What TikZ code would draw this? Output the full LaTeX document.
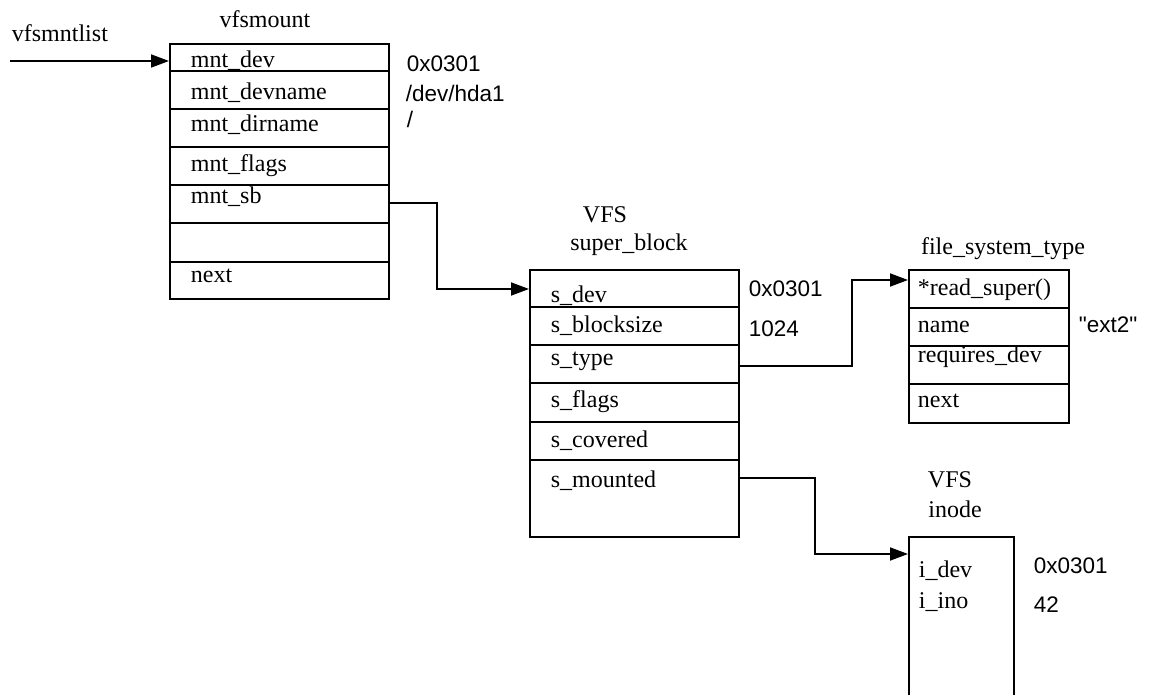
\documentclass[tikz,border=0pt]{standalone}
\usepackage{fontspec}
\setmainfont{Liberation Serif}
\newfontfamily\valfont{Liberation Sans}
\usetikzlibrary{arrows.meta, positioning}
\tikzset{
x=1pt, y=-1pt, % one unit is one pixel of the sketch, y runs downwards
>={Triangle[length=18pt, width=13pt]}, % filled arrow heads
every node/.style={font=\fontsize{24}{28}\selectfont, inner sep=0pt}, % serif labels
struct/.style={draw, rectangle, anchor=north west}, % the outline of a structure
field/.style={anchor=base west}, % a member name inside a structure
value/.style={anchor=base west, font=\valfont\fontsize{22.5}{26}\selectfont}, % a value beside a member
title/.style={anchor=base}, % a name above a structure
ptr/.style={->}, % a pointer from one structure to another
}

\begin{document}
\begin{tikzpicture}[line width=1.8pt]
      \useasboundingbox (0,0) rectangle (1152,695);

      % structures
      \node[struct, minimum width=219pt, minimum height=255pt] (vfsmount) at (169,43) {};
      \node[struct, minimum width=209pt, minimum height=267pt] (superblock) at (529,269) {};
      \node[struct, minimum width=160pt, minimum height=153pt] (fstype) at (908,269) {};
      \node[struct, minimum width=105pt, minimum height=180pt] (inode) at (908,536) {};

      % row lines
      \foreach \y in {71,109,147,185,223,262}
        \draw (vfsmount.west |- 0,\y) -- (vfsmount.east |- 0,\y);
      \foreach \y in {307,345,383,422,460}
        \draw (superblock.west |- 0,\y) -- (superblock.east |- 0,\y);
      \foreach \y in {308,346,384}
        \draw (fstype.west |- 0,\y) -- (fstype.east |- 0,\y);

      % titles
      \node[title, anchor=base west] (listname) at (11,42) {vfsmntlist};
      \node[title] (vfsmountname) at (265,28) {vfsmount};
      \node[title] (sbvfs) at (605,223) {VFS};
      \node[title] (sbname) at (629,251) {super\_block};
      \node[title] (fstypename) at (1003,255) {file\_system\_type};
      \node[title] (inodevfs) at (950,487) {VFS};
      \node[title] (inodename) at (955,517) {inode};

      % vfsmount members
      \node[field] (mntdev) at (190,68) {mnt\_dev};
      \node[field] (mntdevname) at (190,100) {mnt\_devname};
      \node[field] (mntdirname) at (190,132) {mnt\_dirname};
      \node[field] (mntflags) at (190,172) {mnt\_flags};
      \node[field] (mntsb) at (190,204) {mnt\_sb};
      \node[field] (mntnext) at (190,283) {next};
      \node[value] (mntdevval) at (406,72) {0x0301};
      \node[value] (mntdevnameval) at (405,102) {/dev/hda1};
      \node[value] (mntdirnameval) at (406,128) {/};

      % super_block members
      \node[field] (sdev) at (550,303) {s\_dev};
      \node[field] (sblocksize) at (550,333) {s\_blocksize};
      \node[field] (stype) at (550,365) {s\_type};
      \node[field] (sflags) at (550,407) {s\_flags};
      \node[field] (scovered) at (550,447) {s\_covered};
      \node[field] (smounted) at (550,487) {s\_mounted};
      \node[value] (sdevval) at (748,297) {0x0301};
      \node[value] (sblocksizeval) at (748,337) {1024};

      % file_system_type members
      \node[field] (readsuper) at (917,295) {*read\_super()};
      \node[field] (fsname) at (917,333) {name};
      \node[field] (reqdev) at (917,362) {requires\_dev};
      \node[field] (fsnext) at (917,407) {next};
      \node[value] (fsnameval) at (1078,333) {"ext2"};

      % inode members
      \node[field] (idev) at (918,577) {i\_dev};
      \node[field] (iino) at (918,608) {i\_ino};
      \node[value] (idevval) at (1033,573) {0x0301};
      \node[value] (iinoval) at (1033,612) {42};

      % pointers
      \coordinate (listhead) at (10,61);
      \draw[ptr] (listhead) -- (vfsmount.west |- listhead);
      \draw[ptr] (vfsmount.east |- 0,203) -- ++(47,0) |- (superblock.west |- 0,289);
      \draw[ptr] (superblock.east |- 0,366) -- ++(112,0) |- (fstype.west |- 0,280);
      \draw[ptr] (superblock.east |- 0,478) -- ++(75,0) |- (inode.west |- 0,554);
    \end{tikzpicture}
\end{document}
